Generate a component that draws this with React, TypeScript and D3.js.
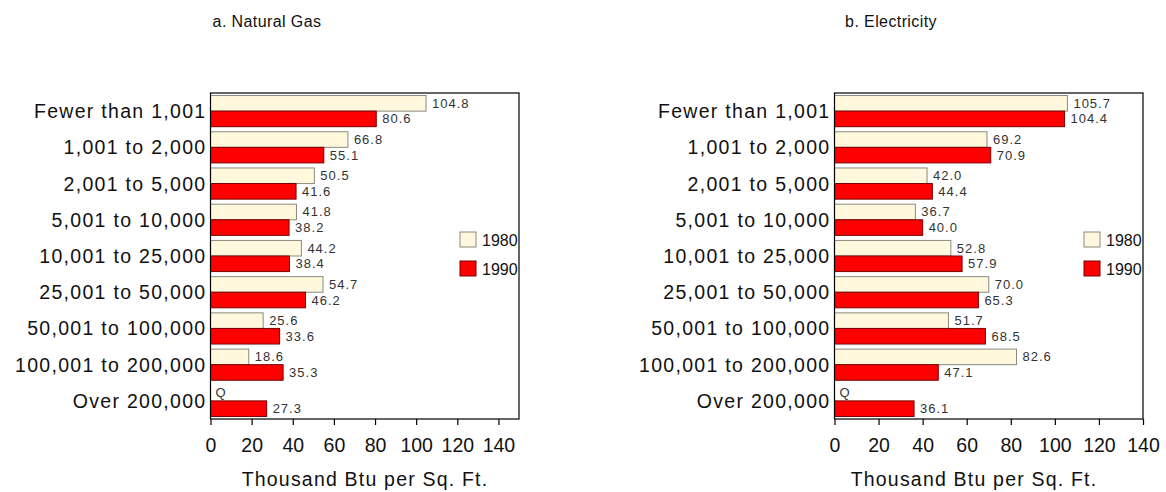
import { useEffect, useRef } from "react"
import * as d3 from "d3"

const categories = [
  "Fewer than 1,001",
  "1,001 to 2,000",
  "2,001 to 5,000",
  "5,001 to 10,000",
  "10,001 to 25,000",
  "25,001 to 50,000",
  "50,001 to 100,000",
  "100,001 to 200,000",
  "Over 200,000",
]
const years = ["1980", "1990"]

// null = "Q" (data withheld)
const gas1980 = [104.8, 66.8, 50.5, 41.8, 44.2, 54.7, 25.6, 18.6, null]
const gas1990 = [80.6, 55.1, 41.6, 38.2, 38.4, 46.2, 33.6, 35.3, 27.3]
const elec1980 = [105.7, 69.2, 42.0, 36.7, 52.8, 70.0, 51.7, 82.6, null]
const elec1990 = [104.4, 70.9, 44.4, 40.0, 57.9, 65.3, 68.5, 47.1, 36.1]
const ticks = [0, 20, 40, 60, 80, 100, 120, 140]

const FONT = "'Liberation Sans', Arial, sans-serif"
const fills: Record<string, string> = { "1980": "#fff8dc", "1990": "#ff0000" }
const strokes: Record<string, string> = { "1980": "#8a8a80", "1990": "#7a0000" }

interface Panel {
  title: string
  titleX: number
  axisTitleX: number
  left: number
  right: number
  max: number
  legendX: number
  series: (number | null)[][]
}

const panels: Panel[] = [
  { title: "a. Natural Gas", titleX: 267, axisTitleX: 365, left: 210.5, right: 519, max: 150, legendX: 460, series: [gas1980, gas1990] },
  { title: "b. Electricity", titleX: 891, axisTitleX: 974, left: 834.5, right: 1143, max: 140, legendX: 1084, series: [elec1980, elec1990] },
]

export default function App() {
  const svgRef = useRef<SVGSVGElement>(null)

  useEffect(() => {
    if (!svgRef.current) return
    const svg = d3.select(svgRef.current)
    svg.selectAll("*").remove()

    const top = 93
    const bottom = 419

    panels.forEach((p) => {
      const g = svg.append("g")
      const x = d3.scaleLinear().domain([0, p.max]).range([p.left, p.right])
      const y = d3.scaleBand<string>().domain(categories).range([top, bottom]).paddingInner(0.14).paddingOuter(0.07)
      const y2 = d3.scaleBand<string>().domain(years).range([0, y.bandwidth()])

      // title
      g.append("text")
        .attr("x", p.titleX)
        .attr("y", 27)
        .attr("text-anchor", "middle")
        .style("font-family", FONT)
        .style("font-size", "16px")
        .style("letter-spacing", "0.4px")
        .attr("fill", "#111")
        .text(p.title)

      // bars
      years.forEach((yr, si) => {
        const vals = p.series[si]
        categories.forEach((c, i) => {
          const v = vals[i]
          const by = (y(c) as number) + (y2(yr) as number)
          if (v === null) {
            g.append("text")
              .attr("x", x(0) + 5)
              .attr("y", by + y2.bandwidth() / 2 + 4)
              .style("font-family", FONT)
              .style("font-size", "13px")
              .attr("fill", "#333")
              .text("Q")
            return
          }
          g.append("rect")
            .attr("x", x(0))
            .attr("y", by)
            .attr("width", x(v) - x(0))
            .attr("height", y2.bandwidth())
            .attr("fill", fills[yr])
            .attr("stroke", strokes[yr])
            .attr("stroke-width", 1)
          g.append("text")
            .attr("x", x(v) + 6)
            .attr("y", by + y2.bandwidth() / 2 + 4.5)
            .style("font-family", FONT)
            .style("font-size", "13px")
            .style("letter-spacing", "1px")
            .attr("fill", "#333")
            .text(v.toFixed(1))
        })
      })

      // frame
      g.append("rect")
        .attr("x", p.left)
        .attr("y", top)
        .attr("width", p.right - p.left)
        .attr("height", bottom - top)
        .attr("fill", "none")
        .attr("stroke", "#000")
        .attr("stroke-width", 1.2)

      // category labels
      categories.forEach((c) => {
        g.append("text")
          .attr("x", p.left - 4)
          .attr("y", (y(c) as number) + y.bandwidth() / 2 + 7)
          .attr("text-anchor", "end")
          .style("font-family", FONT)
          .style("font-size", "19.5px")
          .style("letter-spacing", "1.3px")
          .attr("fill", "#111")
          .text(c)
      })

      // x axis
      const axis = g.append("g")
        .attr("transform", `translate(0,${bottom})`)
        .call(d3.axisBottom(x).tickValues(ticks).tickSize(6).tickSizeOuter(0).tickFormat(d3.format("d")))
      axis.select(".domain").remove()
      axis.selectAll("line").attr("stroke", "#000").attr("stroke-width", 1.2)
      axis.selectAll("text")
        .attr("y", 19)
        .style("font-family", FONT)
        .style("font-size", "19.5px")
        .attr("fill", "#111")

      g.append("text")
        .attr("x", p.axisTitleX)
        .attr("y", 486)
        .attr("text-anchor", "middle")
        .style("font-family", FONT)
        .style("font-size", "19.5px")
        .style("letter-spacing", "1.2px")
        .attr("fill", "#111")
        .text("Thousand Btu per Sq. Ft.")

      // legend
      years.forEach((yr, i) => {
        const ly = 232 + i * 29
        g.append("rect")
          .attr("x", p.legendX)
          .attr("y", ly)
          .attr("width", 16)
          .attr("height", 15)
          .attr("fill", fills[yr])
          .attr("stroke", strokes[yr])
        g.append("text")
          .attr("x", p.legendX + 22)
          .attr("y", ly + 14)
          .style("font-family", FONT)
          .style("font-size", "16px")
          .attr("fill", "#111")
          .text(yr)
      })
    })
  }, [])

  return (
    <div style={{ position: "absolute", left: 0, top: 0 }}>
      <svg ref={svgRef} width={1166} height={492} />
    </div>
  )
}
